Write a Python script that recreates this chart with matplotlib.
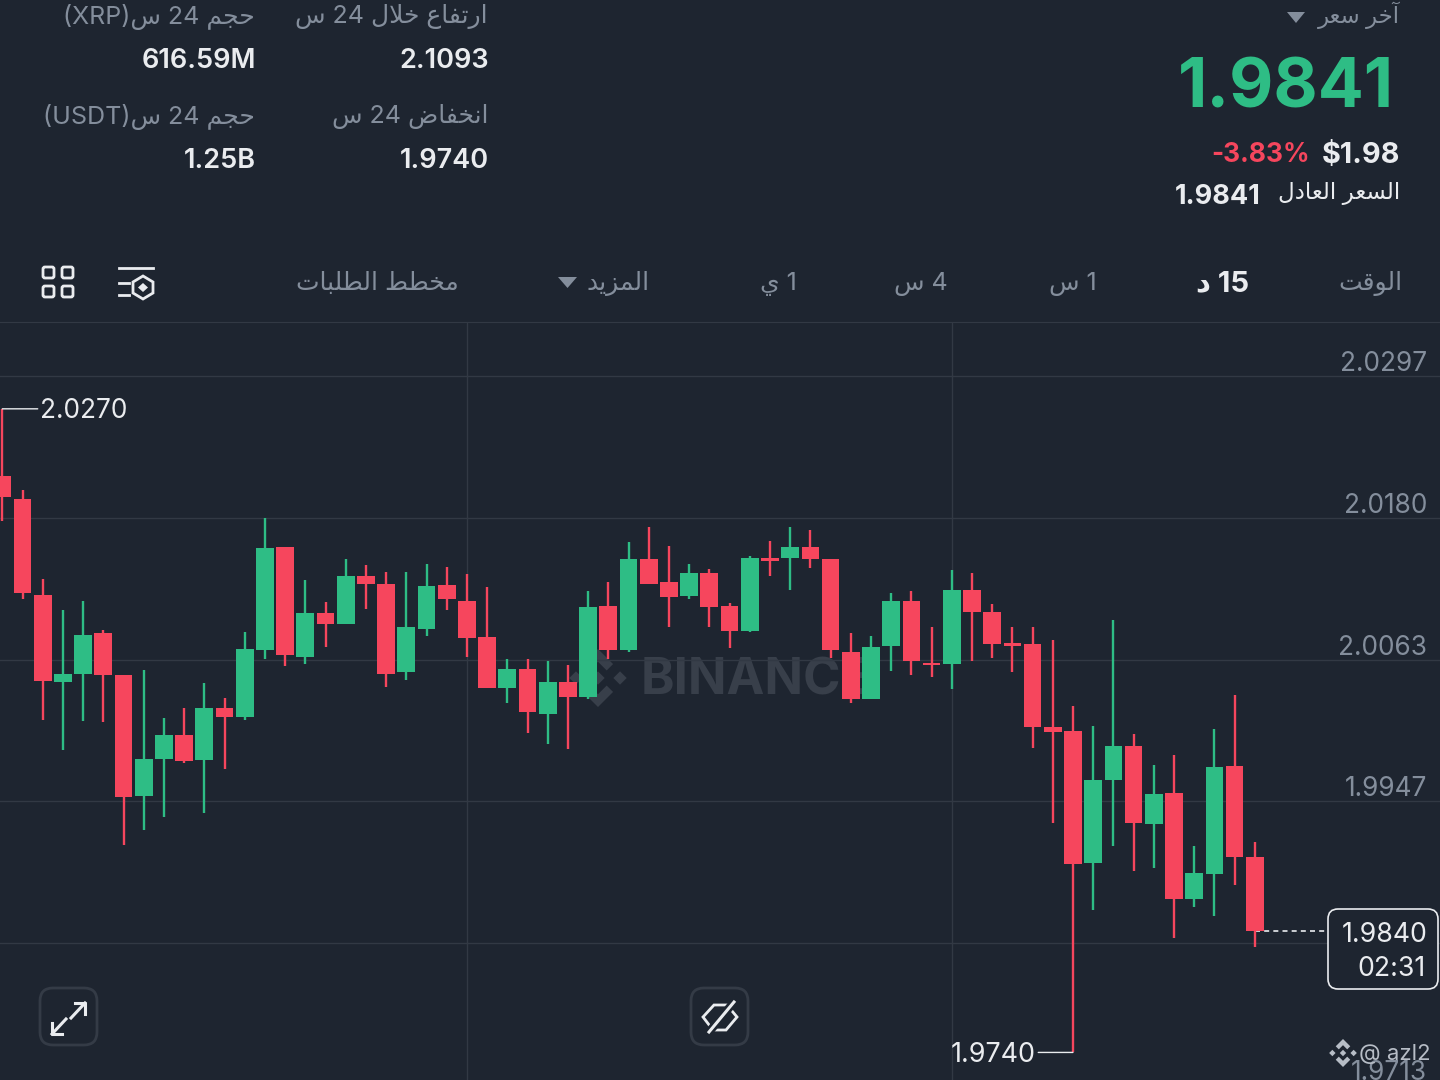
import re
import matplotlib
matplotlib.use("Agg")
import matplotlib.pyplot as plt
from matplotlib.patches import FancyBboxPatch, Polygon

BG = "#1E2530"
GREEN = "#2EBD85"
RED = "#F6465D"
WHITE = "#EAECEF"
GRAY = "#848E9C"
GRID = "#323944"
FONT = ["Inter", "DejaVu Sans"]

plt.rcParams["font.family"] = FONT

# candles, 15 min
opens = [2.0215, 2.0196, 2.0117, 2.0045, 2.0052, 2.0085, 2.0051, 1.9951, 1.9982, 2.0001, 1.9981,
         2.0024, 2.0016, 2.0071, 2.0156, 2.0066, 2.0102, 2.0093, 2.0132, 2.0126, 2.0053, 2.0089,
         2.0125, 2.0112, 2.0082, 2.0040, 2.0056, 2.0019, 2.0045, 2.0033, 2.0108, 2.0071, 2.0146,
         2.0127, 2.0116, 2.0135, 2.0108, 2.0087, 2.0147, 2.0147, 2.0156, 2.0146, 2.0070, 2.0031,
         2.0075, 2.0112, 2.0061, 2.0060, 2.0121, 2.0103, 2.0077, 2.0076, 2.0008, 2.0005, 1.9896,
         1.9964, 1.9992, 1.9928, 1.9954, 1.9866, 1.9887, 1.9976, 1.9901]
highs = [2.0270, 2.0203, 2.0130, 2.0104, 2.0112, 2.0088, 2.0051, 2.0055, 2.0015, 2.0024, 2.0044,
         2.0032, 2.0086, 2.0180, 2.0156, 2.0129, 2.0111, 2.0146, 2.0141, 2.0136, 2.0136, 2.0142,
         2.0140, 2.0134, 2.0123, 2.0064, 2.0064, 2.0062, 2.0059, 2.0120, 2.0127, 2.0160, 2.0173,
         2.0157, 2.0142, 2.0138, 2.0110, 2.0149, 2.0161, 2.0173, 2.0170, 2.0146, 2.0085, 2.0083,
         2.0118, 2.0120, 2.0090, 2.0137, 2.0135, 2.0109, 2.0090, 2.0090, 2.0080, 2.0025, 2.0009,
         2.0096, 2.0002, 1.9977, 1.9985, 1.9910, 2.0006, 2.0034, 1.9913]
lows = [2.0178, 2.0113, 2.0014, 1.9989, 2.0013, 2.0012, 1.9911, 1.9923, 1.9934, 1.9978, 1.9937,
        1.9973, 2.0014, 2.0064, 2.0058, 2.0060, 2.0074, 2.0093, 2.0105, 2.0041, 2.0047, 2.0083,
        2.0104, 2.0066, 2.0040, 2.0028, 2.0003, 1.9994, 1.9990, 2.0031, 2.0064, 2.0070, 2.0126,
        2.0090, 2.0113, 2.0090, 2.0073, 2.0086, 2.0132, 2.0121, 2.0139, 2.0065, 2.0028, 2.0031,
        2.0054, 2.0051, 2.0049, 2.0039, 2.0062, 2.0065, 2.0053, 1.9991, 1.9929, 1.9740, 1.9857,
        1.9910, 1.9889, 1.9892, 1.9834, 1.9860, 1.9852, 1.9878, 1.9827]
closes = [2.0197, 2.0118, 2.0046, 2.0052, 2.0084, 2.0051, 1.9950, 1.9982, 2.0001, 1.9980, 2.0024,
          2.0016, 2.0072, 2.0155, 2.0067, 2.0102, 2.0093, 2.0132, 2.0126, 2.0052, 2.0090, 2.0124,
          2.0113, 2.0081, 2.0040, 2.0056, 2.0020, 2.0045, 2.0033, 2.0107, 2.0071, 2.0146, 2.0126,
          2.0115, 2.0135, 2.0107, 2.0087, 2.0147, 2.0145, 2.0156, 2.0146, 2.0071, 2.0031, 2.0074,
          2.0112, 2.0062, 2.0059, 2.0121, 2.0103, 2.0076, 2.0075, 2.0008, 2.0004, 1.9895, 1.9964,
          1.9992, 1.9929, 1.9953, 1.9866, 1.9888, 1.9975, 1.9901, 1.9840]

price_ticks = [2.0297, 2.0180, 2.0063, 1.9947, 1.9830, 1.9713]
time_ticks = [23, 47]
high_idx, high_val = 0, 2.0270
low_idx, low_val = 53, 1.9740
last_price = 1.9840
countdown = "02:31"

stat_labels = ["ارتفاع خلال 24 س", "انخفاض 24 س", "حجم 24 س(XRP)", "حجم 24 س(USDT)"]
stat_values = ["2.1093", "1.9740", "616.59M", "1.25B"]
tab_labels = ["الوقت", "15 د", "1 س", "4 س", "1 ي", "المزيد", "مخطط الطلبات"]

# matplotlib does no Arabic shaping, so map letters to presentation forms by hand
AR_BASE = {"ا": 0xFE8D, "آ": 0xFE81, "ب": 0xFE8F, "ت": 0xFE95, "ج": 0xFE9D, "ح": 0xFEA1, "خ": 0xFEA5,
           "د": 0xFEA9, "ر": 0xFEAD, "ز": 0xFEAF, "س": 0xFEB1, "ض": 0xFEBD, "ط": 0xFEC1, "ع": 0xFEC9,
           "ف": 0xFED1, "ق": 0xFED5, "ل": 0xFEDD, "م": 0xFEE1, "ن": 0xFEE5, "و": 0xFEED, "ي": 0xFEF1}
NON_JOIN = set("اآدرزو")


def shape_word(word):
    out = []
    joined = False
    i = 0
    while i < len(word):
        c = word[i]
        if c == "ل" and word[i + 1:i + 2] == "ا":
            out.append("\uFEFC" if joined else "\uFEFB")
            joined = False
            i += 2
            continue
        to_next = c not in NON_JOIN and i + 1 < len(word)
        form = (3 if to_next else 1) if joined else (2 if to_next else 0)
        out.append(chr(AR_BASE[c] + form))
        joined = c not in NON_JOIN
        i += 1
    return "".join(reversed(out))


def ar(text):
    tokens = re.findall(r"[\u0600-\u06FF]+|[^\u0600-\u06FF\s]+|\s+", text)
    return "".join(shape_word(t) if "\u0600" <= t[0] <= "\u06FF" else t for t in reversed(tokens))


fig = plt.figure(figsize=(14.4, 10.8), dpi=100, facecolor=BG)


def px_axes(zorder):
    a = fig.add_axes([0, 0, 1, 1], zorder=zorder)
    a.set_xlim(0, 1440)
    a.set_ylim(1080, 0)
    a.axis("off")
    return a


under = px_axes(0)
ax = fig.add_axes([0, 0, 1, (1080 - 322) / 1080], zorder=1)
ui = px_axes(2)

# price chart
ax.patch.set_alpha(0)
for name, sp in ax.spines.items():
    sp.set_visible(name == "top")
    sp.set_color(GRID)
ax.set_yticks(price_ticks)
ax.set_xticks(time_ticks)
ax.tick_params(length=0, labelleft=False, labelbottom=False)
ax.grid(True, color=GRID, lw=1)
ax.set_axisbelow(True)

for i in range(len(opens)):
    col = GREEN if closes[i] > opens[i] else RED
    ax.vlines(i, lows[i], highs[i], color=col, lw=1.7, zorder=3)
    ax.bar(i, abs(closes[i] - opens[i]), bottom=min(opens[i], closes[i]), width=0.875, color=col, lw=0, zorder=3)
# limits last, set_yticks would widen them otherwise
ax.set_xlim(-0.114, 71.17)
ax.set_ylim(1.97173, 2.03415)

for p in price_ticks:
    ax.annotate(f"{p:.4f}", xy=(1 - 13 / 1440, p), xycoords=ax.get_yaxis_transform(), xytext=(0, 9),
                textcoords="offset points", ha="right", va="center", color=GRAY, fontsize=18.9)

ax.annotate(f"{high_val:.4f}", xy=(high_idx, high_val), xytext=(27.5, -1.5), textcoords="offset points",
            ha="left", va="center", color=WHITE, fontsize=18.9,
            arrowprops=dict(arrowstyle="-", color=WHITE, lw=1, shrinkA=0, shrinkB=0, relpos=(0, 0.58)))
ax.annotate(f"{low_val:.4f}", xy=(low_idx, low_val), xytext=(-27, -1.5), textcoords="offset points",
            ha="right", va="center", color=WHITE, fontsize=19.4,
            arrowprops=dict(arrowstyle="-", color=WHITE, lw=1, shrinkA=0, shrinkB=0, relpos=(1, 0.58)))
ax.hlines(last_price, len(opens) - 1, 65.56, color=WHITE, lw=1.2, ls=(0, (3, 2.5)), zorder=2)


def binance_logo(a, cx, cy, r, color, zorder=1):
    top = [(0, -1), (0.52, -0.48), (0.3, -0.26), (0, -0.56), (-0.3, -0.26), (-0.52, -0.48)]
    shapes = [top, [(x, -y) for x, y in top]]
    for dx in (-0.76, 0, 0.76):
        shapes.append([(dx, -0.23), (dx + 0.23, 0), (dx, 0.23), (dx - 0.23, 0)])
    for s in shapes:
        a.add_patch(Polygon([(cx + x * r, cy + y * r) for x, y in s], closed=True, fc=color, ec="none", zorder=zorder))


# watermark
binance_logo(under, 598, 678, 29, "#383F4A")
under.text(641, 681, "BINANCE", color="#383F4A", fontsize=36.5, fontweight="bold", ha="left", va="center")


def label(text, x, y, size=18.0, color=GRAY, weight="normal"):
    ui.text(x, y + 2.5, text, ha="right", va="center", color=color, fontsize=size, fontweight=weight)


# header, right side
label(ar("آخر سعر"), 1400, 13, size=16.4)
ui.add_patch(Polygon([(1287, 12), (1305, 12), (1296, 23)], closed=True, fc=GRAY, ec="none"))
label("1.9841", 1394, 87, size=49, color=GREEN, weight="bold")
label("$1.98", 1400, 153, size=20.8, color=WHITE, weight="bold")
label("-3.83%", 1310, 153, size=18.9, color=RED, weight="bold")
label(ar("السعر العادل"), 1400, 191, size=16.6, color=WHITE)
label("1.9841", 1261, 194, size=19.5, color=WHITE, weight="bold")

# header, left side
stat_x = [488, 488, 255, 255]
stat_y = [14, 114, 14, 114]
for t, v, x, y in zip(stat_labels, stat_values, stat_x, stat_y):
    label(ar(t), x, y)
    label(v, x + 1, y + 44, size=19.5, color=WHITE, weight="semibold")

# tabs
tab_x = [1402, 1249, 1097, 948, 797, 650, 459]
for k, (t, x) in enumerate(zip(tab_labels, tab_x)):
    active = k == 1
    label(ar(t), x, 281, size=21 if active else 18, color=WHITE if active else GRAY, weight="bold" if active else "normal")
ui.add_patch(Polygon([(558, 277), (577, 277), (567.5, 288)], closed=True, fc=GRAY, ec="none"))

# grid icon
for x in (43, 62):
    for y in (267, 286):
        ui.add_patch(FancyBboxPatch((x, y), 11, 11, boxstyle="round,pad=0,rounding_size=2", fc="none", ec=WHITE, lw=2))
# indicator icon
ui.plot([119, 153], [268, 268], color=WHITE, lw=2)
ui.plot([119, 129], [283, 283], color=WHITE, lw=2)
ui.plot([119, 129], [295, 295], color=WHITE, lw=2)
ui.add_patch(Polygon([(143, 276), (153, 282), (153, 293), (143, 299), (133, 293), (133, 282)], closed=True, fc="none", ec=WHITE, lw=2))
ui.add_patch(Polygon([(143, 283), (148, 287.5), (143, 292), (138, 287.5)], closed=True, fc=WHITE, ec="none"))

# buttons under the chart
for x in (40, 691):
    ui.add_patch(FancyBboxPatch((x, 988), 57, 57, boxstyle="round,pad=0,rounding_size=13", fc=BG, ec="#343B46", lw=2))
ui.plot([71, 85], [1018, 1003], color=WHITE, lw=2.2)
ui.plot([75, 85, 85], [1003, 1003, 1014], color=WHITE, lw=2.2)
ui.plot([66, 52], [1019, 1034], color=WHITE, lw=2.2)
ui.plot([52, 52, 62], [1023, 1034, 1034], color=WHITE, lw=2.2)
ui.add_patch(Polygon([(703, 1017), (714, 1005), (727, 1005), (737, 1017), (726, 1030), (713, 1030)], closed=True, fc="none", ec=WHITE, lw=2))
ui.plot([709, 734], [1032, 1002], color=BG, lw=6)
ui.plot([709, 734], [1032, 1002], color=WHITE, lw=2.2)

# last price tag
ui.add_patch(FancyBboxPatch((1328, 909), 110, 80, boxstyle="round,pad=0,rounding_size=10", fc=BG, ec=WHITE, lw=1.2))
label(f"{last_price:.4f}", 1428, 932, size=19.2, color=WHITE)
label(countdown, 1426, 967, size=19.2, color=WHITE)

# user watermark
binance_logo(ui, 1343, 1053, 14, "#B7BDC6", zorder=3)
label("@ azl2", 1431, 1051, size=16, color="#B7BDC6")

fig.savefig("out.png", dpi=100, facecolor=BG)
